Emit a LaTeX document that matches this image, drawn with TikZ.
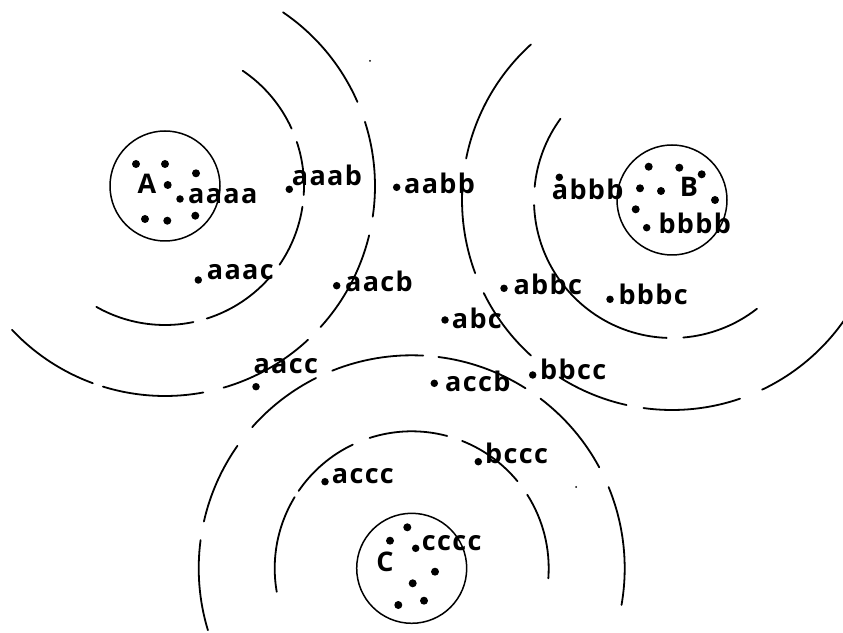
\documentclass[tikz,border=0pt]{standalone}
\usepackage{fontspec}
\newfontfamily\labfont{Open Sans}[LetterSpace=5]
\begin{document}
\begin{tikzpicture}[x=1pt,y=1pt,
  arcline/.style={line width=1.8pt, line cap=round},
  ring/.style={draw, circle, line width=1.5pt, minimum size=110pt, inner sep=0pt},
  pt/.style={circle, fill, inner sep=0pt, minimum size=8pt},
  lpt/.style={circle, fill, inner sep=0pt, minimum size=7.5pt},
  speck/.style={circle, fill, inner sep=0pt, minimum size=2pt},
  lab/.style={anchor=base west, inner sep=0pt, font=\labfont\bfseries\fontsize{27}{27}\selectfont},
  big/.style={inner sep=0pt, font=\labfont\bfseries\fontsize{27}{27}\selectfont}]
\useasboundingbox (0,0) rectangle (843,632);
% central circles
\node[ring] (cA) at (165,446) {};
\node[ring] (cB) at (672,432) {};
\node[ring] (cC) at (411.7,63.7) {};
\node[big] (LA) at (147,448) {A};
\node[big] (LB) at (689,445) {B};
\node[big] (LC) at (385,70) {C};
% arcs around A
\foreach \s/\e in {24.4/56, -3.7/18.5, -34.5/-8.6, -72.5/-40, -119.6/-78.2}
  \draw[arcline] ([shift={(\s:139)}]cA.center) arc[start angle=\s, end angle=\e, radius=139];
\foreach \s/\e in {23.6/55.8, -8.4/17.8, -42.2/-13.6, -73.8/-47.1, -107.2/-79.5, -136.8/-110.1}
  \draw[arcline] ([shift={(\s:210)}]cA.center) arc[start angle=\s, end angle=\e, radius=210];
% arcs around B
\foreach \s/\e in {143.9/174.5, 182.1/267.8, 274.7/308}
  \draw[arcline] ([shift={(\s:138)}]cB.center) arc[start angle=\s, end angle=\e, radius=138];
\foreach \s/\e in {132.2/168.6, 174.6/200.4, 206.3/227.8, 237.6/257.5, 262.2/288.9, 295.4/325.7}
  \draw[arcline] ([shift={(\s:210)}]cB.center) arc[start angle=\s, end angle=\e, radius=210];
% arcs around C
\foreach \s/\e in {148.7/189.9, 115.5/145.6, 75/107.9, 39.5/68.4, -4.2/32.5}
  \draw[arcline] ([shift={(\s:137)}]cC.center) arc[start angle=\s, end angle=\e, radius=137];
\foreach \s/\e in {172.4/196.9, 144.9/167.3, 116.7/138.5, 86.9/111.9, 57.7/82.8, 28.3/52.8, -9.9/22.4}
  \draw[arcline] ([shift={(\s:213)}]cC.center) arc[start angle=\s, end angle=\e, radius=213];
% dots inside A
\foreach \p [count=\i] in {(136,468),(165,468),(196,458.7),(167.7,447),(145,413),(167.3,411.3),(195.3,416.3)}
  \node[pt] (a\i) at \p {};
% dots inside B
\foreach \p [count=\i] in {(648.7,465.3),(679.3,464.3),(701.7,457.7),(640,443.7),(661,441),(715,432),(635.7,422.7)}
  \node[pt] (b\i) at \p {};
% dots inside C
\foreach \p [count=\i] in {(407.3,104.7),(390,91.3),(435,60.3),(412.7,48.7),(398.3,27),(424,31.3)}
  \node[pt] (c\i) at \p {};
% labelled points
\node[lpt] (d1) at (180,433) {};    \node[lab] (t1) at (188,428) {aaaa};
\node[lpt] (d2) at (289.3,442.7) {};\node[lab] (t2) at (291.7,446) {aaab};
\node[lpt] (d3) at (396.7,444.7) {};\node[lab] (t3) at (404,438.7) {aabb};
\node[lpt] (d4) at (198.3,352) {};  \node[lab] (t4) at (206.7,352) {aaac};
\node[lpt] (d5) at (336.7,346.3) {};\node[lab] (t5) at (345,340.3) {aacb};
\node[lpt] (d6) at (559.3,454.7) {};\node[lab] (t6) at (551.7,432.7) {abbb};
\node[lpt] (d7) at (646.7,404.3) {};\node[lab] (t7) at (658.3,398.7) {bbbb};
\node[lpt] (d8) at (504,343.7) {};  \node[lab] (t8) at (513.3,337) {abbc};
\node[lpt] (d9) at (610,332.7) {};  \node[lab] (t9) at (618.3,327) {bbbc};
\node[lpt] (d10) at (445,312) {};   \node[lab] (t10) at (451.7,303.7) {abc};
\node[lpt] (d11) at (532.7,257) {}; \node[lab] (t11) at (540,252) {bbcc};
\node[lpt] (d12) at (434.3,248.7) {};\node[lab] (t12) at (445,240.3) {accb};
\node[lpt] (d13) at (256,245.3) {}; \node[lab] (t13) at (253.3,258.7) {aacc};
\node[lpt] (d14) at (478.3,170.3) {};\node[lab] (t14) at (485,168.7) {bccc};
\node[lpt] (d15) at (325,150.3) {}; \node[lab] (t15) at (331.7,148.7) {accc};
\node[lpt] (d16) at (415.7,83.7) {};\node[lab] (t16) at (421.7,82) {cccc};
% specks
\node[speck] (s1) at (370,571) {};
\node[speck] (s2) at (576,145) {};
\end{tikzpicture}
\end{document}
